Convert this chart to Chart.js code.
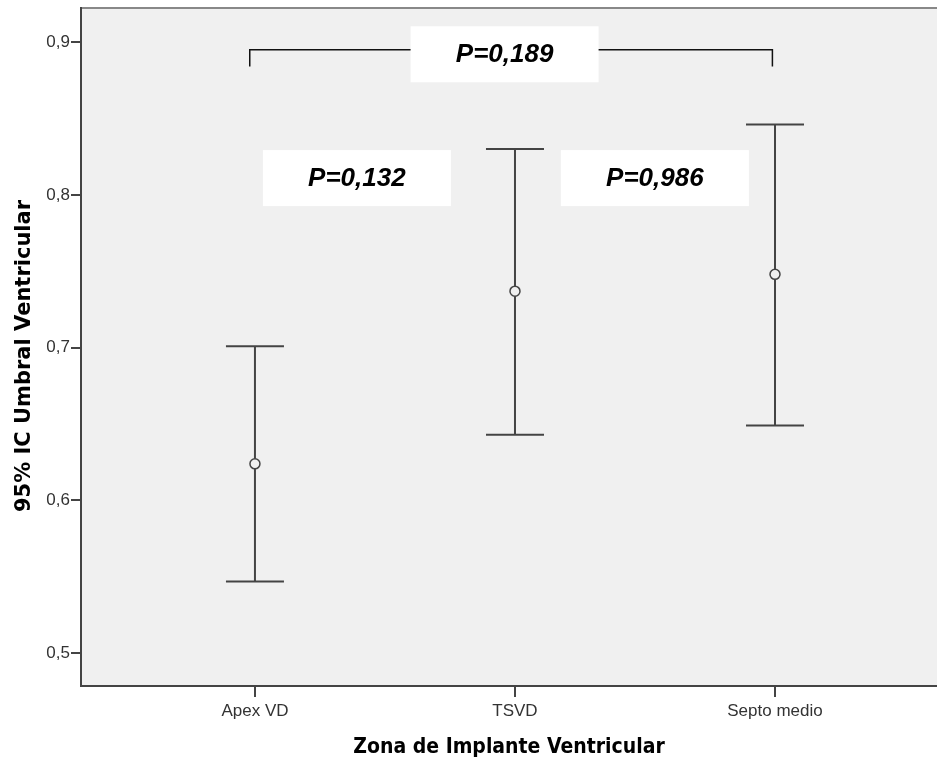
<!DOCTYPE html>
<html>
<head>
<meta charset="utf-8">
<script src="https://cdn.jsdelivr.net/npm/chart.js@4/dist/chart.umd.min.js"></script>
<style>
  html, body { margin: 0; padding: 0; background: #fff; overflow: hidden; }
  #wrap { width: 937px; height: 758px; }
  canvas { display: block; }
</style>
</head>
<body>
<div id="wrap"><canvas id="ciChart" width="937" height="758"></canvas></div>
<script>
// datos: IC 95% del umbral ventricular por zona de implante
const categories = ['Apex VD', 'TSVD', 'Septo medio'];
const means = [0.624, 0.737, 0.748];
const lower = [0.547, 0.643, 0.649];
const upper = [0.701, 0.830, 0.846];
const yTicks = [0.5, 0.6, 0.7, 0.8, 0.9];

// etiquetas de significación (posición en coordenadas de datos)
const pTexts = ['P=0,132', 'P=0,986', 'P=0,189'];
const pX = [0.392, 1.538, 0.96];
const pY = [0.811, 0.811, 0.892];
const bracketX = [-0.02, 1.99];
const bracketY = [0.895, 0.884];

const axisColor = '#444';

// fondo gris del área de trazado + borde superior
const plotBg = {
    id: 'plotBg',
    beforeDraw(chart) {
        const { ctx, chartArea: a } = chart;
        ctx.save();
        ctx.fillStyle = '#f0f0f0';
        ctx.fillRect(a.left, a.top, a.right - a.left, a.bottom - a.top);
        ctx.strokeStyle = '#888';
        ctx.lineWidth = 2;
        ctx.beginPath();
        ctx.moveTo(a.left, a.top);
        ctx.lineTo(a.right, a.top);
        ctx.stroke();
        ctx.restore();
    }
};

// barras de error (IC 95%)
const errorBars = {
    id: 'errorBars',
    beforeDatasetsDraw(chart) {
        const { ctx, scales: { x, y } } = chart;
        ctx.save();
        ctx.strokeStyle = axisColor;
        ctx.lineWidth = 2;
        categories.forEach((c, i) => {
            const px = x.getPixelForValue(i);
            const yl = y.getPixelForValue(lower[i]);
            const yu = y.getPixelForValue(upper[i]);
            const ym = y.getPixelForValue(means[i]);
            ctx.beginPath();
            ctx.moveTo(px, yu); ctx.lineTo(px, ym - 5);
            ctx.moveTo(px, ym + 5); ctx.lineTo(px, yl);
            ctx.moveTo(px - 29, yu); ctx.lineTo(px + 29, yu);
            ctx.moveTo(px - 29, yl); ctx.lineTo(px + 29, yl);
            ctx.stroke();
        });
        ctx.restore();
    }
};

// corchete, cajas de P y títulos de ejes
const annotations = {
    id: 'annotations',
    afterDraw(chart) {
        const { ctx, chartArea: a, scales: { x, y } } = chart;
        ctx.save();
        // corchete Apex VD - Septo medio
        const bx1 = x.getPixelForValue(bracketX[0]);
        const bx2 = x.getPixelForValue(bracketX[1]);
        const by1 = y.getPixelForValue(bracketY[0]);
        const by2 = y.getPixelForValue(bracketY[1]);
        ctx.strokeStyle = '#111';
        ctx.lineWidth = 1.5;
        ctx.beginPath();
        ctx.moveTo(bx1, by2); ctx.lineTo(bx1, by1); ctx.lineTo(bx2, by1); ctx.lineTo(bx2, by2);
        ctx.stroke();

        ctx.font = 'italic bold 26px "Liberation Sans", Arial, sans-serif';
        ctx.textAlign = 'center';
        ctx.textBaseline = 'middle';
        pTexts.forEach((t, i) => {
            const cx = x.getPixelForValue(pX[i]);
            const cy = y.getPixelForValue(pY[i]);
            ctx.fillStyle = '#fff';
            ctx.fillRect(cx - 94, cy - 28, 188, 56);
            ctx.fillStyle = '#000';
            ctx.fillText(t, cx, cy + 1);
        });

        // títulos
        ctx.fillStyle = '#000';
        ctx.textBaseline = 'alphabetic';
        ctx.font = 'bold 21px "DejaVu Sans Condensed", "DejaVu Sans", sans-serif';
        ctx.fillText('Zona de Implante Ventricular', (a.left + a.right) / 2, 753);
        ctx.font = 'bold 21px "DejaVu Sans", sans-serif';
        ctx.translate(30, 356);
        ctx.rotate(-Math.PI / 2);
        ctx.fillText('95% IC Umbral Ventricular', 0, 0);
        ctx.restore();
    }
};

const ctx1 = document.getElementById('ciChart').getContext('2d');
const ciChart = new Chart(ctx1, {
    type: 'scatter',
    data: {
        datasets: [{
            data: categories.map((c, i) => ({ x: i, y: means[i] })),
            pointStyle: 'circle',
            pointRadius: 5,
            pointBorderWidth: 1.5,
            borderColor: axisColor,
            backgroundColor: 'rgba(0,0,0,0)'
        }]
    },
    options: {
        responsive: false,
        animation: false,
        layout: { autoPadding: false, padding: { top: 8, right: 0, left: 0, bottom: 0 } },
        scales: {
            x: {
                type: 'linear',
                min: -0.669,
                max: 2.623,
                afterBuildTicks: s => { s.ticks = categories.map((c, i) => ({ value: i })); },
                afterFit: s => { s.height = 72; s.paddingLeft = 0; s.paddingRight = 0; },
                ticks: {
                    callback: v => categories[v],
                    color: '#333',
                    padding: 4,
                    maxRotation: 0,
                    autoSkip: false,
                    font: { family: '"Liberation Sans", Arial, sans-serif', size: 17 }
                },
                grid: { drawOnChartArea: false, drawTicks: true, tickLength: 11, color: axisColor, lineWidth: 2 },
                border: { display: true, color: axisColor, width: 2 }
            },
            y: {
                min: 0.4786,
                max: 0.9223,
                afterBuildTicks: s => { s.ticks = yTicks.map(v => ({ value: v })); },
                afterFit: s => { s.width = 81; s.paddingTop = 0; s.paddingBottom = 0; },
                ticks: {
                    callback: v => v.toFixed(1).replace('.', ','),
                    color: '#333',
                    padding: 1,
                    font: { family: '"Liberation Sans", Arial, sans-serif', size: 17 }
                },
                grid: { drawOnChartArea: false, drawTicks: true, tickLength: 10, color: axisColor, lineWidth: 2 },
                border: { display: true, color: axisColor, width: 2 }
            }
        },
        plugins: {
            legend: { display: false },
            tooltip: { enabled: false }
        }
    },
    plugins: [plotBg, errorBars, annotations]
});
</script>
</body>
</html>
